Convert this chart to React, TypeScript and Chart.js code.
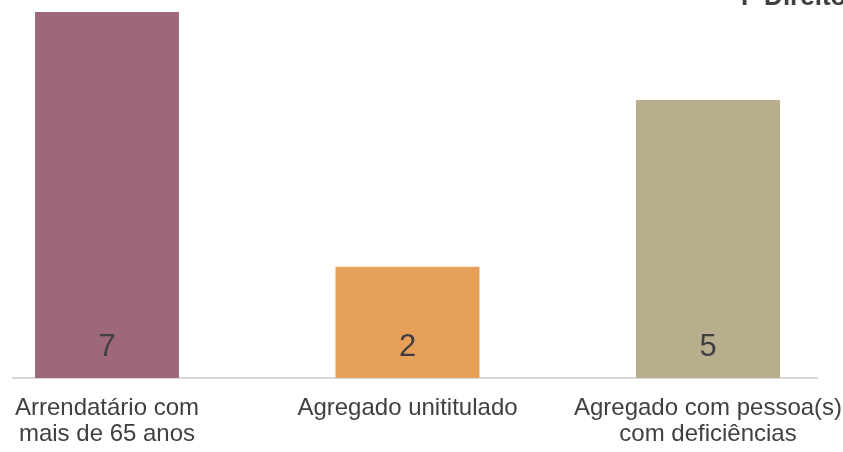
import React, { useEffect, useRef } from "react";
import { Chart, registerables } from "chart.js";

Chart.register(...registerables);

const categories: string[][] = [
  ["Arrendatário com", "mais de 65 anos"],
  ["Agregado unititulado"],
  ["Agregado com pessoa(s)", "com deficiências"],
];
const values: number[] = [7, 2, 5];
const barColors: string[] = ["#9E687C", "#E6A05A", "#B8AD8D"];
const titleText = "F Direito";

const FONT = "'Liberation Sans', Arial, sans-serif";

const overlayPlugin = {
  id: "overlay",
  afterDatasetsDraw(chart: any) {
    const ctx = chart.ctx;
    const meta = chart.getDatasetMeta(0);
    ctx.save();
    ctx.fillStyle = "#404040";
    ctx.font = `31px ${FONT}`;
    ctx.textAlign = "center";
    ctx.textBaseline = "middle";
    meta.data.forEach((el: any, i: number) => {
      ctx.fillText(String(values[i]), el.x, el.base - 31);
    });
    ctx.restore();
  },
  afterDraw(chart: any) {
    const ctx = chart.ctx;
    ctx.save();
    ctx.fillStyle = "#404040";
    ctx.font = `bold 26px ${FONT}`;
    ctx.textAlign = "left";
    ctx.textBaseline = "alphabetic";
    ctx.fillText(titleText, 741, 5);
    ctx.restore();
  },
};

export default function App() {
  const ref = useRef<HTMLCanvasElement | null>(null);

  useEffect(() => {
    if (!ref.current) return;
    const chart = new Chart(ref.current, {
      type: "bar",
      data: {
        datasets: [
          {
            data: values.map((v, i) => ({ x: i, y: v })),
            backgroundColor: barColors,
            borderWidth: 0,
            categoryPercentage: 1,
            barPercentage: 0.479,
          },
        ],
      },
      options: {
        responsive: false,
        animation: false,
        devicePixelRatio: 1,
        layout: { padding: { top: 12, left: 13, right: 26, bottom: 0 } },
        plugins: {
          legend: { display: false },
          tooltip: { enabled: false },
        },
        scales: {
          x: {
            type: "linear",
            offset: false,
            min: -0.3128,
            max: 2.3627,
            afterBuildTicks: (scale: any) => {
              scale.ticks = categories.map((_, i) => ({ value: i }));
            },
            afterFit: (scale: any) => {
              scale.height = 74;
              scale.paddingLeft = 0;
              scale.paddingRight = 0;
            },
            grid: { display: false, drawTicks: false, tickLength: 0, offset: false },
            border: { display: true, color: "#D9D9D9", width: 2 },
            ticks: {
              autoSkip: false,
              maxRotation: 0,
              minRotation: 0,
              padding: 17,
              color: "#404040",
              font: { family: FONT, size: 24, lineHeight: 1.1 },
              callback: (v: any) => categories[Math.round(v)] ?? "",
            },
          },
          y: {
            display: false,
            min: 0,
            max: 6.58,
          },
        },
      },
      plugins: [overlayPlugin],
    } as any);
    return () => chart.destroy();
  }, []);

  return (
    <div style={{ position: "fixed", left: 0, top: 0, width: 843, height: 452, background: "#fff" }}>
      <canvas ref={ref} width={843} height={452} style={{ display: "block" }} />
    </div>
  );
}
